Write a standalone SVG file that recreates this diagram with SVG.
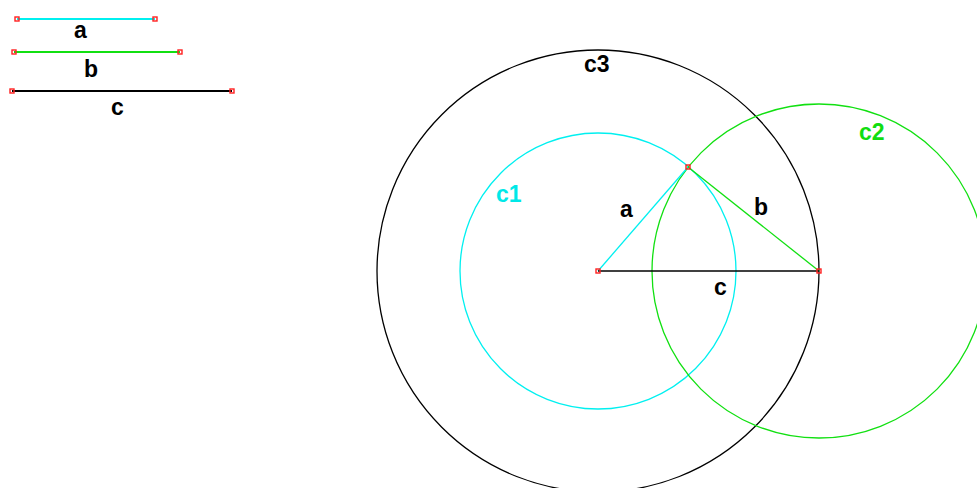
<svg xmlns="http://www.w3.org/2000/svg" width="977" height="488" viewBox="0 0 977 488">
<style>
.lbl{font-family:"Liberation Sans",Arial,sans-serif;font-weight:bold;font-size:23px}
.cy{stroke:#00f0f0;fill:none;stroke-width:1.3}
.gr{stroke:#11e011;fill:none;stroke-width:1.3}
.bk{stroke:#000;fill:none;stroke-width:1.3}
.pt{fill:none;stroke:#ff2020;stroke-width:1.4}
</style>
<rect width="977" height="488" fill="#fff"/>
<g id="legend-a">
<line x1="17" y1="19" x2="155" y2="19" class="cy" style="stroke-width:2"/>
<rect x="15" y="17" width="4" height="4" class="pt"/>
<rect x="153" y="17" width="4" height="4" class="pt"/>
<text x="74" y="38" class="lbl">a</text>
</g>
<g id="legend-b">
<line x1="14" y1="52" x2="180" y2="52" class="gr" style="stroke-width:2"/>
<rect x="12" y="50" width="4" height="4" class="pt"/>
<rect x="178" y="50" width="4" height="4" class="pt"/>
<text x="84" y="77" class="lbl">b</text>
</g>
<g id="legend-c">
<line x1="12" y1="91" x2="232" y2="91" class="bk" style="stroke-width:2"/>
<rect x="10" y="89" width="4" height="4" class="pt"/>
<rect x="230" y="89" width="4" height="4" class="pt"/>
<text x="111" y="115" class="lbl">c</text>
</g>
<g id="c3">
<circle cx="598" cy="271" r="221" class="bk"/>
<text x="584" y="72" class="lbl">c3</text>
</g>
<g id="c1">
<circle cx="598" cy="271" r="138" class="cy"/>
<text x="496" y="202" class="lbl" fill="#00e8e8">c1</text>
</g>
<g id="c2">
<circle cx="819" cy="271" r="167" class="gr"/>
<text x="859" y="140" class="lbl" fill="#11dd11">c2</text>
</g>
<g id="connectors">
<line x1="598" y1="271" x2="688" y2="167" class="cy"/>
<line x1="688" y1="167" x2="819" y2="271" class="gr"/>
<line x1="598" y1="271" x2="819" y2="271" class="bk"/>
<text x="620" y="217" class="lbl">a</text>
<text x="754" y="215" class="lbl">b</text>
<text x="714" y="295" class="lbl">c</text>
</g>
<g id="points">
<rect x="596" y="269" width="4" height="4" class="pt"/>
<rect x="686" y="165" width="4" height="4" class="pt"/>
<rect x="817" y="269" width="4" height="4" class="pt"/>
</g>
</svg>
